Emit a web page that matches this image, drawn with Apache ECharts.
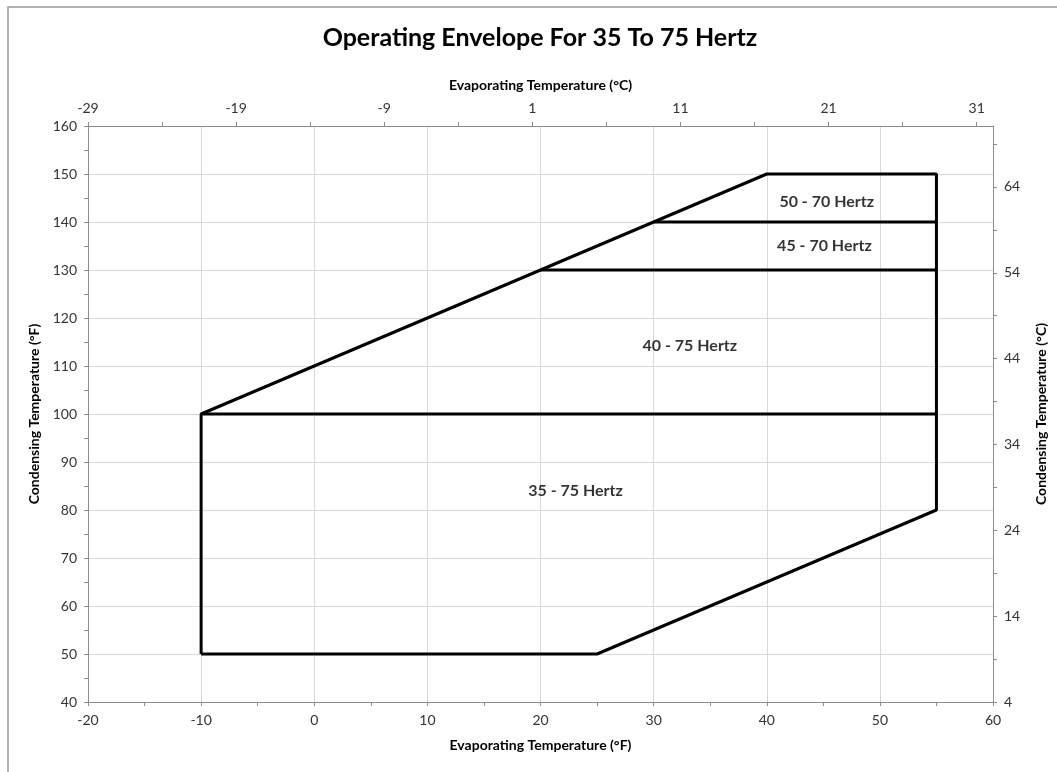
<!DOCTYPE html>
<html>
<head>
<meta charset="utf-8">
<script src="https://cdn.jsdelivr.net/npm/echarts@6/dist/echarts.min.js"></script>
<style>
  html, body { margin: 0; padding: 0; background: #fff; }
  #chart { width: 1057px; height: 772px; }
</style>
</head>
<body>
<div id="chart"></div>
<script>
// envelope outline, degrees F (evaporating, condensing)
var envelope = [[-10, 50], [-10, 100], [40, 150], [55, 150], [55, 80], [25, 50], [-10, 50]];
// horizontal dividers between the hertz zones
var divider100 = [[-10, 100], [55, 100]];
var divider130 = [[20, 130], [55, 130]];
var divider140 = [[30, 140], [55, 140]];
// zone labels
var zoneLabels = ['50 - 70 Hertz', '45 - 70 Hertz', '40 - 75 Hertz', '35 - 75 Hertz'];
var zonePos = [[45.3, 144.2], [45.1, 135], [33.2, 114.2], [23.1, 84]];
// secondary (celsius) axis ticks
var topTicks = [-29, -24, -19, -14, -9, -4, 1, 6, 11, 16, 21, 26, 31];
var topLabels = [-29, -19, -9, 1, 11, 21, 31];
var rightTicks = [4, 9, 14, 19, 24, 29, 34, 39, 44, 49, 54, 59, 64, 69];
var rightLabels = [4, 14, 24, 34, 44, 54, 64];

var font = 'Lato, "Open Sans", sans-serif';
var axisGray = '#8c8c8c';
var labelColor = '#333';

var chart = echarts.init(document.getElementById('chart'), null, { renderer: 'canvas' });

function lineSeries(data) {
  return {
    type: 'line',
    data: data,
    xAxisIndex: 0,
    yAxisIndex: 0,
    symbol: 'none',
    silent: true,
    lineStyle: { color: '#000', width: 3 },
    z: 5
  };
}

var axisLine = { show: true, onZero: false, lineStyle: { color: axisGray, width: 1 } };
var tick = { show: true, inside: false, length: 4, lineStyle: { color: axisGray } };
var minor = { show: true, splitNumber: 2, length: 4, lineStyle: { color: axisGray } };
var nameStyle = { fontFamily: font, fontWeight: 'bold', fontSize: 14, color: '#000' };
var labelStyle = { fontFamily: font, fontSize: 14, color: labelColor, margin: 11 };

chart.setOption({
  animation: false,
  title: {
    text: 'Operating Envelope For 35 To 75 Hertz',
    left: 535,
    top: 20,
    textAlign: 'center',
    textStyle: { fontFamily: font, fontWeight: 'bold', fontSize: 25, color: '#000' }
  },
  graphic: [{
    type: 'rect',
    shape: { x: 8, y: 7, width: 1200, height: 1000 },
    style: { fill: null, stroke: '#999', lineWidth: 1.5 },
    silent: true
  }],
  grid: { left: 88, right: 64, top: 126, bottom: 70 },
  xAxis: [{
    type: 'value', position: 'bottom',
    min: -20, max: 60, interval: 10,
    name: 'Evaporating Temperature (°F)', nameLocation: 'middle', nameGap: 36,
    nameTextStyle: nameStyle,
    axisLine: axisLine, axisTick: tick, minorTick: minor,
    axisLabel: labelStyle,
    splitLine: { show: true, lineStyle: { color: '#d9d9d9' } }
  }, {
    type: 'value', position: 'top',
    min: -29, max: 32.1,
    name: 'Evaporating Temperature (°C)', nameLocation: 'middle', nameGap: 34,
    nameTextStyle: nameStyle,
    axisLine: axisLine,
    axisTick: { show: true, inside: false, length: 4, lineStyle: { color: axisGray }, customValues: topTicks },
    axisLabel: Object.assign({}, labelStyle, { customValues: topLabels }),
    splitLine: { show: false }
  }],
  yAxis: [{
    type: 'value', position: 'left',
    min: 40, max: 160, interval: 10,
    name: 'Condensing Temperature (°F)', nameLocation: 'middle', nameGap: 44,
    nameTextStyle: nameStyle,
    axisLine: axisLine, axisTick: tick, minorTick: minor,
    axisLabel: labelStyle,
    splitLine: { show: true, lineStyle: { color: '#d9d9d9' } }
  }, {
    type: 'value', position: 'right',
    min: 4, max: 71.1,
    name: 'Condensing Temperature (°C)', nameLocation: 'middle', nameGap: 41,
    nameTextStyle: nameStyle,
    axisLine: axisLine,
    axisTick: { show: true, inside: false, length: 4, lineStyle: { color: axisGray }, customValues: rightTicks },
    axisLabel: Object.assign({}, labelStyle, { customValues: rightLabels }),
    splitLine: { show: false }
  }],
  series: [
    lineSeries(envelope),
    lineSeries(divider100),
    lineSeries(divider130),
    lineSeries(divider140),
    {
      type: 'scatter',
      xAxisIndex: 0,
      yAxisIndex: 0,
      symbolSize: 0,
      silent: true,
      data: zonePos.map(function(p, i) { return { value: p, name: zoneLabels[i] }; }),
      label: {
        show: true,
        position: 'inside',
        formatter: function(p) { return p.name; },
        fontFamily: font, fontWeight: 'bold', fontSize: 16, color: '#000'
      },
      z: 6
    }
  ]
});

window.addEventListener('resize', function() { chart.resize(); });
</script>
</body>
</html>
